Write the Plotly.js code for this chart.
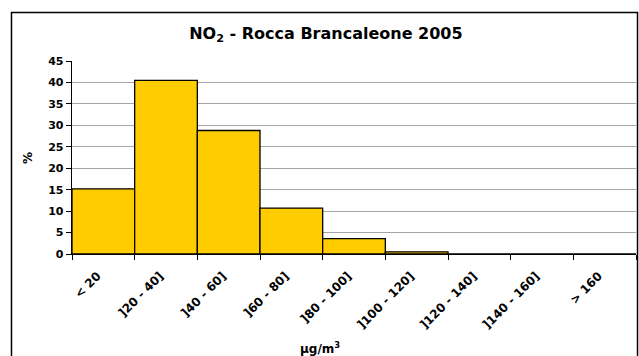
<!DOCTYPE html>
<html>
<head>
<meta charset="utf-8">
<script src="https://cdn.plot.ly/plotly-3.0.1.min.js"></script>
<style>html,body{margin:0;padding:0;background:#fff;}#chart{width:639px;height:356px;}</style>
</head>
<body>
<div id="chart"></div>
<script>
const categories = ['< 20', ']20 - 40]', ']40 - 60]', ']60 - 80]', ']80 - 100]', ']100 - 120]', ']120 - 140]', ']140 - 160]', '> 160'];
const values = [15.2, 40.5, 28.8, 10.7, 3.6, 0.5, 0, 0, 0];
const yTicks = [0, 5, 10, 15, 20, 25, 30, 35, 40, 45];

const F = '"DejaVu Sans", Arial, sans-serif';

const trace = {
  type: 'bar',
  x: categories,
  y: values,
  marker: {color: '#FFCC00', line: {color: '#000000', width: 1.3}},
  hoverinfo: 'none'
};

const layout = {
  width: 639, height: 356,
  margin: {l: 72, r: 3, t: 61, b: 102},
  paper_bgcolor: '#ffffff', plot_bgcolor: '#ffffff',
  bargap: 0,
  showlegend: false,
  font: {family: F, color: '#000', size: 10},
  title: {text: '<b>NO<sub>2</sub> - Rocca Brancaleone 2005</b>', x: 0.51, xref: 'container', xanchor: 'center', y: 0.907, yref: 'container', yanchor: 'middle', font: {family: F, size: 16, color: '#000'}},
  xaxis: {
    type: 'category', tickson: 'boundaries', ticks: 'outside', ticklen: 5, tickcolor: '#000', tickwidth: 1,
    tickangle: -45, showline: true, linecolor: '#000', linewidth: 1.3, showgrid: false, zeroline: false,
    ticklabelstandoff: 9, ticklabelshift: -6,
    tickfont: {family: F, size: 12, color: '#000', weight: 'bold'}, fixedrange: true
  },
  yaxis: {
    range: [0, 45], tickvals: yTicks, ticks: 'outside', ticklen: 5, tickcolor: '#000', tickwidth: 1,
    showline: true, linecolor: '#000', linewidth: 1.3, showgrid: true, gridcolor: '#a6a6a6', gridwidth: 1,
    zeroline: false, tickfont: {family: F, size: 11, color: '#000', weight: 'bold'}, fixedrange: true
  },
  annotations: [
    {text: '<b>µg/m<sup>3</sup></b>', xref: 'paper', yref: 'paper', x: 0.44, y: -0.487, xanchor: 'center', yanchor: 'middle', showarrow: false, font: {family: F, size: 12, color: '#000'}},
    {text: '<b>%</b>', xref: 'paper', yref: 'paper', x: -0.078, y: 0.497, xanchor: 'center', yanchor: 'middle', textangle: -90, showarrow: false, font: {family: F, size: 12, color: '#000'}}
  ],
  shapes: [
    {type: 'rect', xref: 'paper', yref: 'paper', x0: -0.1073, x1: 1.0027, y0: -0.56, y1: 1.2513, line: {color: '#000', width: 1.5}, fillcolor: 'rgba(0,0,0,0)', layer: 'above'}
  ]
};

Plotly.newPlot('chart', [trace], layout, {displayModeBar: false, staticPlot: true});
</script>
</body>
</html>
